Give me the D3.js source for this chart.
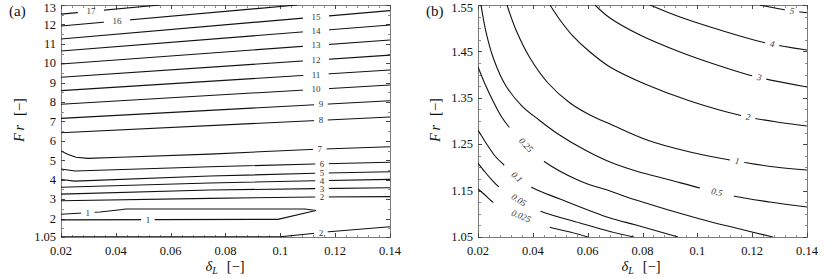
<!DOCTYPE html>
<html><head><meta charset="utf-8">
<script src="https://cdn.jsdelivr.net/npm/d3@7"></script>
<style>
body{margin:0;background:#fff}
svg{display:block}
text{font-family:"Liberation Serif","DejaVu Serif",serif;fill:#111}
</style>
</head><body>
<svg id="c" width="830" height="278"></svg>
<script>
// ---------- axis ticks ----------
const xTicks = [0.02, 0.04, 0.06, 0.08, 0.1, 0.12, 0.14];
const xTickLabels = ["0.02", "0.04", "0.06", "0.08", "0.1", "0.12", "0.14"];
const aYTicks = [1.05, 2, 3, 4, 5, 6, 7, 8, 9, 10, 11, 12, 13];
const aYTickLabels = ["1.05", "2", "3", "4", "5", "6", "7", "8", "9", "10", "11", "12", "13"];
const bYTicks = [1.05, 1.15, 1.25, 1.35, 1.45, 1.55];
const bYTickLabels = ["1.05", "1.15", "1.25", "1.35", "1.45", "1.55"];

// ---------- panel (a): contour polylines [deltaL, Fr] ----------
const aContours = [
  [[0.02, 12.53], [0.056, 13.0]],                                   // 17
  [[0.02, 11.92], [0.1061, 13.0]],                                  // 16
  [[0.02, 11.25], [0.14, 12.71]],                                   // 15
  [[0.02, 10.63], [0.14, 11.97]],                                   // 14
  [[0.02, 9.96], [0.14, 11.20]],                                    // 13
  [[0.02, 9.28], [0.14, 10.42]],                                    // 12
  [[0.02, 8.59], [0.14, 9.65]],                                     // 11
  [[0.02, 7.89], [0.14, 8.88]],                                     // 10
  [[0.02, 7.16], [0.14, 8.07]],                                     // 9
  [[0.02, 6.42], [0.14, 7.23]],                                     // 8
  [[0.02, 5.48], [0.0226, 5.30], [0.0255, 5.16], [0.0298, 5.10], [0.0415, 5.155], [0.0743, 5.32], [0.1108, 5.56], [0.14, 5.70]], // 7
  [[0.02, 4.55], [0.0251, 4.45], [0.0743, 4.67], [0.1126, 4.81], [0.14, 4.90]],   // 6
  [[0.02, 4.01], [0.0251, 3.93], [0.0743, 4.19], [0.1126, 4.33], [0.14, 4.41]],   // 5
  [[0.02, 3.61], [0.0743, 3.83], [0.1126, 3.95], [0.14, 4.02]],                   // 4
  [[0.02, 3.26], [0.0743, 3.47], [0.1126, 3.54], [0.14, 3.59]],                   // 3
  [[0.02, 2.92], [0.0743, 3.04], [0.1126, 3.11], [0.14, 3.13]],                   // 2
  [[0.02, 2.22], [0.0342, 2.34], [0.0408, 2.44], [0.0437, 2.49], [0.1090, 2.49], [0.1130, 2.415], [0.0991, 1.96], [0.02, 1.93]], // 1
  [[0.02, 1.06], [0.0999, 1.06], [0.1091, 1.19], [0.1177, 1.32], [0.14, 1.58]]    // 2 (lower)
];
const aLabelText = ["17", "16", "15", "14", "13", "12", "11", "10", "9", "8", "7", "6", "5", "4", "3", "2", "1", "1", "2"];
const aLabelContour = [0, 1, 2, 3, 4, 5, 6, 7, 8, 9, 10, 11, 12, 13, 14, 15, 16, 16, 17];
const aLabelPos = [[0.0309, 12.67], [0.0404, 12.18], [0.1130, 12.38], [0.1130, 11.67], [0.1130, 10.92],
  [0.1130, 10.16], [0.1130, 9.41], [0.1130, 8.66], [0.1148, 7.88], [0.1148, 7.06], [0.1144, 5.58],
  [0.1152, 4.82], [0.1152, 4.34], [0.1152, 3.957], [0.1152, 3.545], [0.1152, 3.112],
  [0.0298, 2.30], [0.0517, 1.94], [0.1148, 1.275]];

// ---------- panel (b): contour polylines [deltaL, Fr] ----------
const bContours = [
  [[0.02, 1.1534], [0.02255, 1.1405], [0.02584, 1.1233], [0.03568, 1.0953], [0.0459, 1.0716], [0.05356, 1.0608], [0.06012, 1.05]], // 0.025
  [[0.02, 1.2095], [0.02255, 1.1901], [0.02511, 1.1728], [0.02766, 1.1578], [0.03495, 1.1297], [0.04261, 1.106], [0.0572, 1.0802], [0.06815, 1.0619], [0.0769, 1.05]], // 0.05
  [[0.02, 1.2806], [0.02292, 1.2526], [0.0262, 1.2246], [0.02948, 1.2052], [0.03422, 1.1793], [0.04006, 1.1556], [0.04991, 1.1319], [0.06815, 1.091], [0.07763, 1.0759], [0.09295, 1.05]], // 0.1
  [[0.02, 1.4164], [0.02255, 1.3797], [0.02547, 1.3431], [0.02839, 1.3108], [0.03131, 1.2871], [0.03751, 1.2483], [0.04444, 1.2116], [0.0572, 1.1707], [0.06815, 1.1491], [0.07763, 1.1297], [0.10097, 1.0888], [0.11556, 1.0672], [0.1276, 1.05]], // 0.25
  [[0.02109, 1.55], [0.02292, 1.4918], [0.02584, 1.4315], [0.03021, 1.3754], [0.03605, 1.3323], [0.04225, 1.3022], [0.04918, 1.2720], [0.05903, 1.2375], [0.06815, 1.2116], [0.07763, 1.1922], [0.09003, 1.1728], [0.10097, 1.1556], [0.11301, 1.1384], [0.1265, 1.1254], [0.14, 1.1147]], // 0.5
  [[0.03058, 1.55], [0.03386, 1.4961], [0.03897, 1.4358], [0.04553, 1.3819], [0.05356, 1.3388], [0.06085, 1.3129], [0.06815, 1.2935], [0.08164, 1.2591], [0.09732, 1.2332], [0.11191, 1.2160], [0.12833, 1.2009], [0.14, 1.1944]], // 1
  [[0.04626, 1.55], [0.04991, 1.5177], [0.05429, 1.4853], [0.06085, 1.4487], [0.06815, 1.4164], [0.08091, 1.3797], [0.09732, 1.3431], [0.11665, 1.3108], [0.13015, 1.2968], [0.14, 1.2892]], // 2
  [[0.06267, 1.55], [0.06815, 1.5220], [0.07909, 1.4853], [0.09368, 1.4487], [0.10827, 1.4185], [0.1203, 1.3970], [0.14, 1.3733]], // 3
  [[0.08274, 1.55], [0.09368, 1.5241], [0.10827, 1.4961], [0.12504, 1.4681], [0.14, 1.4530]], // 4
  [[0.12285, 1.55], [0.13233, 1.5392], [0.14, 1.5334]] // 5
];
const bLabelText = ["0.025", "0.05", "0.1", "0.25", "0.5", "1", "2", "3", "4", "5"];
const bLabelContour = [0, 1, 2, 3, 4, 5, 6, 7, 8, 9];
const bLabelPos = [[0.03568, 1.0942], [0.03495, 1.1297], [0.03422, 1.1793], [0.03751, 1.2483], [0.10717, 1.147],
  [0.11446, 1.2116], [0.11848, 1.3065], [0.12249, 1.3916], [0.12723, 1.4638], [0.13452, 1.536]];

// ---------- drawing ----------
const W = 830, H = 278, TOP = 5, BOT = 237;
const svg = d3.select("#c");
const defs = svg.append("defs");

function drawPanel(cfg) {
  const x = d3.scaleLinear().domain([0.02, 0.14]).range([cfg.x0, cfg.x1]);
  const y = d3.scaleLinear().domain(cfg.yDomain).range([BOT, TOP]);
  const g = svg.append("g");

  defs.append("clipPath").attr("id", "clip" + cfg.id)
    .append("rect").attr("x", cfg.x0).attr("y", TOP).attr("width", cfg.x1 - cfg.x0).attr("height", BOT - TOP);
  const mask = defs.append("mask").attr("id", "mask" + cfg.id)
    .attr("maskUnits", "userSpaceOnUse").attr("x", 0).attr("y", 0).attr("width", W).attr("height", H);
  mask.append("rect").attr("width", W).attr("height", H).attr("fill", "#fff");

  const line = d3.line().x(d => x(d[0])).y(d => y(d[1])).curve(cfg.curve);

  // frame
  g.append("rect").attr("x", cfg.x0).attr("y", TOP).attr("width", cfg.x1 - cfg.x0).attr("height", BOT - TOP)
    .attr("fill", "none").attr("stroke", "#7a7a7a").attr("stroke-width", 1).attr("shape-rendering", "crispEdges");

  // ticks (inward, mirrored)
  const tg = g.append("g").attr("shape-rendering", "crispEdges");
  const xMinor = d3.range(0.024, 0.1399, 0.004).filter(v => xTicks.every(t => Math.abs(t - v) > 1e-6));
  const yMinor = cfg.yMinor.filter(v => cfg.yTicks.every(t => Math.abs(t - v) > 1e-6));
  function xt(vals, len, col) {
    vals.forEach(v => {
      const px = Math.round(x(v)) + 0.5;
      tg.append("line").attr("x1", px).attr("x2", px).attr("y1", BOT).attr("y2", BOT - len).attr("stroke", col);
      tg.append("line").attr("x1", px).attr("x2", px).attr("y1", TOP).attr("y2", TOP + len).attr("stroke", col);
    });
  }
  function yt(vals, len, col) {
    vals.forEach(v => {
      const py = Math.round(y(v)) + 0.5;
      tg.append("line").attr("y1", py).attr("y2", py).attr("x1", cfg.x0).attr("x2", cfg.x0 + len).attr("stroke", col);
      tg.append("line").attr("y1", py).attr("y2", py).attr("x1", cfg.x1).attr("x2", cfg.x1 - len).attr("stroke", col);
    });
  }
  xt(xMinor, 2.5, "#8a8a8a"); xt(xTicks, 4, "#444");
  yt(yMinor, 2.5, "#8a8a8a"); yt(cfg.yTicks, 4, "#444");

  // tick labels
  g.append("g").selectAll("text").data(xTicks).join("text")
    .attr("x", d => x(d)).attr("y", 255).attr("text-anchor", "middle").style("font-size", "12.5px")
    .text((d, i) => xTickLabels[i]);
  g.append("g").selectAll("text").data(cfg.yTicks).join("text")
    .attr("x", cfg.x0 - 5).attr("y", d => Math.max(y(d), 7.5)).attr("dy", "0.34em").attr("text-anchor", "end").style("font-size", "12.5px")
    .text((d, i) => cfg.yTickLabels[i]);

  // contours (masked for label gaps)
  const cg = g.append("g").attr("clip-path", `url(#clip${cfg.id})`)
    .append("g").attr("mask", `url(#mask${cfg.id})`);
  cg.selectAll("path").data(cfg.contours).join("path")
    .attr("d", line).attr("fill", "none").attr("stroke", "#111").attr("stroke-width", 1.1);

  // contour labels
  const lg = g.append("g");
  cfg.labelText.forEach((txt, i) => {
    let px = x(cfg.labelPos[i][0]), py = y(cfg.labelPos[i][1]);
    const pts = cfg.contours[cfg.labelContour[i]].map(d => [x(d[0]), y(d[1])]);
    let best = Infinity, ang = 0, sp = [px, py];
    for (let k = 0; k < pts.length - 1; k++) {
      const a = pts[k], b = pts[k + 1];
      const dx = b[0] - a[0], dy = b[1] - a[1];
      const L2 = dx * dx + dy * dy;
      let t = ((px - a[0]) * dx + (py - a[1]) * dy) / L2;
      t = Math.max(0, Math.min(1, t));
      const qx = a[0] + t * dx, qy = a[1] + t * dy;
      const dd = (qx - px) ** 2 + (qy - py) ** 2;
      if (dd < best) { best = dd; ang = Math.atan2(dy, dx) * 180 / Math.PI; sp = [qx, qy]; }
    }
    if (ang > 90) ang -= 180;
    if (ang < -90) ang += 180;
    px = sp[0]; py = sp[1];
    const tAng = cfg.rotateText ? ang : 0;
    const t = lg.append("text").attr("text-anchor", "middle").attr("dy", "0.33em")
      .attr("transform", `translate(${px},${py}) rotate(${tAng})`)
      .style("font-size", "9px").style("font-style", cfg.italicLabels ? "italic" : "normal")
      .style("fill", "#333").text(txt);
    const w = t.node().getComputedTextLength();
    const gw = w + 2 * cfg.padFactor * w + 1;
    mask.append("rect").attr("x", -gw / 2).attr("y", -3.5).attr("width", gw).attr("height", 7)
      .attr("transform", `translate(${px},${py}) rotate(${ang})`).attr("fill", "#000");
  });

  // panel letter
  svg.append("text").attr("x", cfg.letterX).attr("y", 16).style("font-size", "15px").text(cfg.letter);

  // x axis title
  const xtTitle = svg.append("text").attr("x", cfg.xTitleX).attr("y", 271).attr("text-anchor", "middle").style("font-size", "14.5px");
  xtTitle.append("tspan").style("font-style", "italic").text("δ");
  xtTitle.append("tspan").style("font-style", "italic").style("font-size", "10px").attr("dy", 3).text("L");
  xtTitle.append("tspan").attr("dy", -3).attr("dx", 9).text("[−]");

  // y axis title
  const ytTitle = svg.append("text").attr("text-anchor", "middle")
    .attr("transform", `translate(${cfg.yTitleX},120) rotate(-90)`).style("font-size", "14.5px");
  ytTitle.append("tspan").style("font-style", "italic").text("F");
  ytTitle.append("tspan").style("font-style", "italic").attr("dx", 2.5).text("r");
  ytTitle.append("tspan").attr("dx", 9).text("[−]");
}

drawPanel({
  id: "a", x0: 61, x1: 390, yDomain: [1.05, 13],
  yTicks: aYTicks, yTickLabels: aYTickLabels, yMinor: d3.range(1.5, 13, 0.5),
  contours: aContours, labelText: aLabelText, labelContour: aLabelContour, labelPos: aLabelPos,
  curve: d3.curveLinear, rotateText: false, italicLabels: false, padFactor: 0.9,
  letter: "(a)", letterX: 9, xTitleX: 225, yTitleX: 24
});
drawPanel({
  id: "b", x0: 478, x1: 807, yDomain: [1.05, 1.55],
  yTicks: bYTicks, yTickLabels: bYTickLabels, yMinor: d3.range(1.075, 1.55, 0.025),
  contours: bContours, labelText: bLabelText, labelContour: bLabelContour, labelPos: bLabelPos,
  curve: d3.curveCatmullRom.alpha(0.5), rotateText: true, italicLabels: true, padFactor: 1.0,
  letter: "(b)", letterX: 426, xTitleX: 641, yTitleX: 440
});
</script>
</body></html>
